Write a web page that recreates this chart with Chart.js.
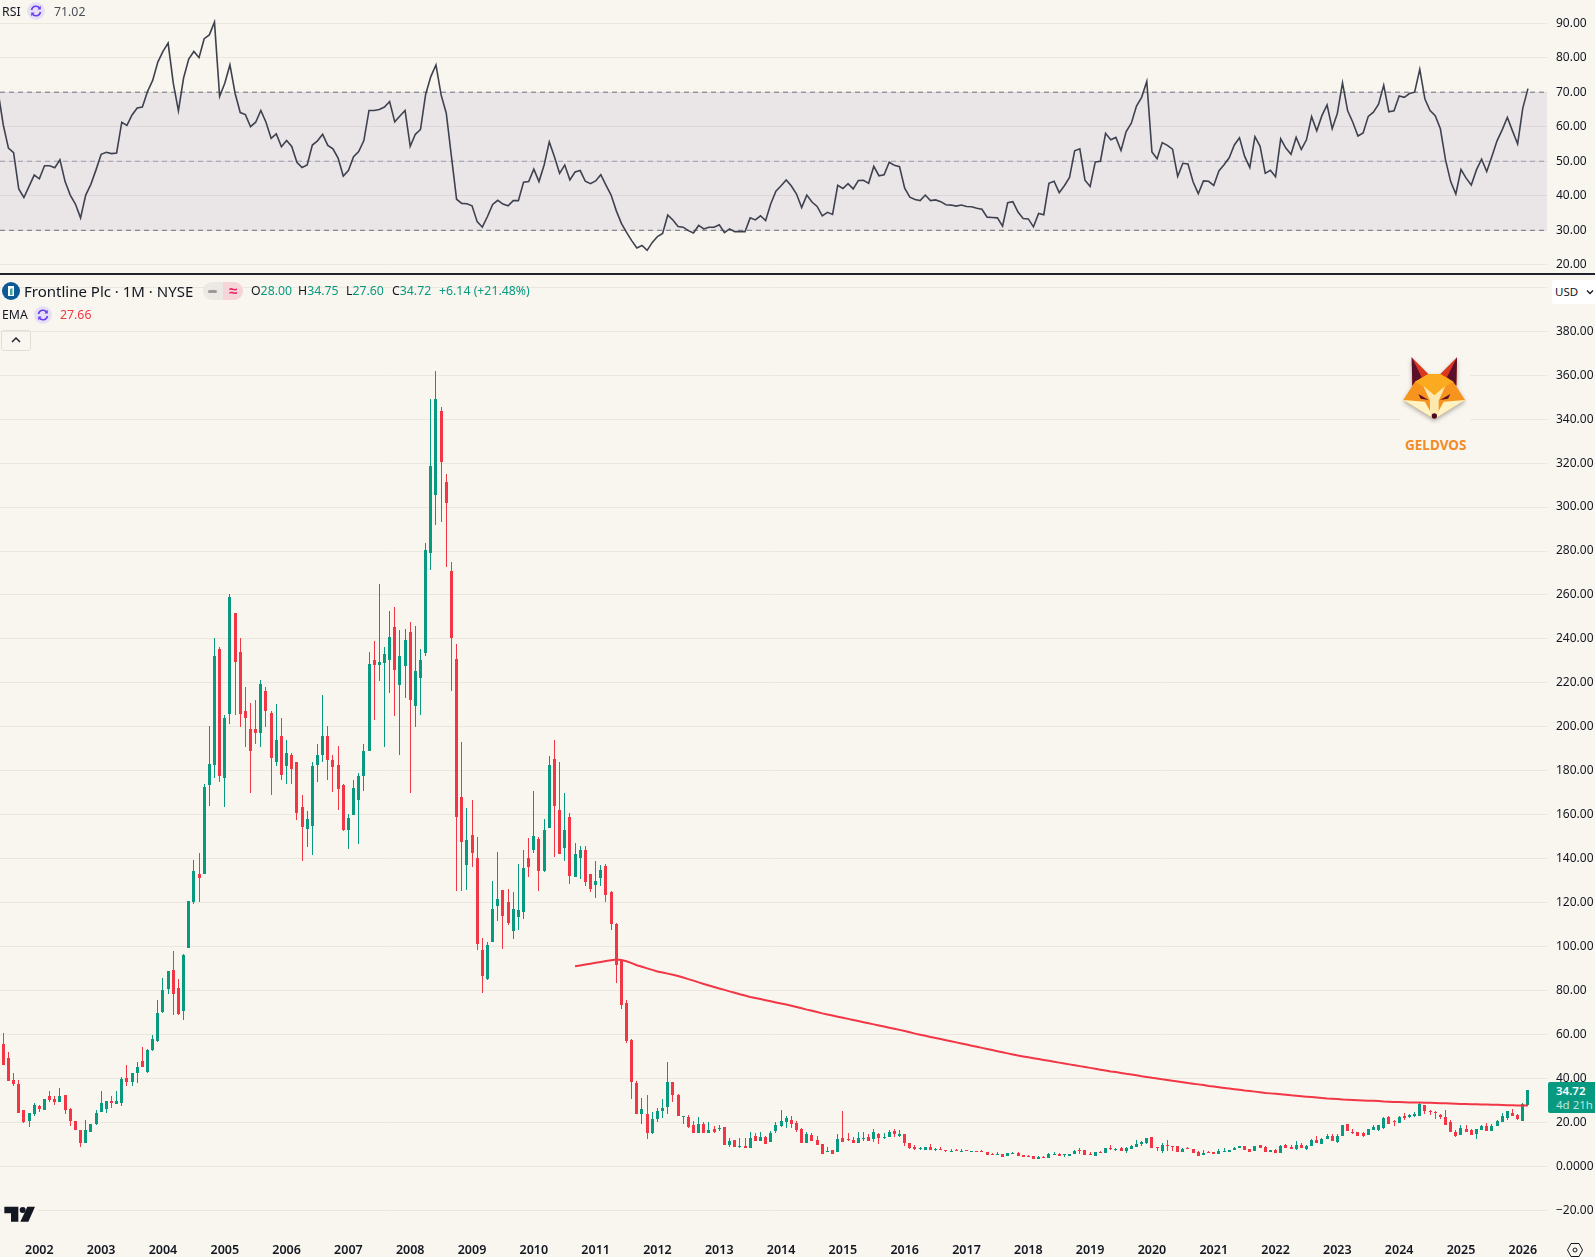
<!DOCTYPE html>
<html>
<head>
<meta charset="utf-8">
<title>Frontline Plc</title>
<script src="https://cdn.jsdelivr.net/npm/chart.js@4"></script>
<style>
    html, body { margin: 0; padding: 0; width: 1595px; height: 1257px; overflow: hidden; background: #f9f6ef; }
    body { position: relative; font-family: "Noto Sans", sans-serif; color: #131722; }
    canvas { position: absolute; left: 0; }
    #rsiChart { top: 0; }
    #priceChart { top: 275px; }
    #separator { position: absolute; left: 0; top: 273px; width: 1595px; height: 2px; background: #20232d; }
    .t { position: absolute; white-space: nowrap; font-size: 12.3px; line-height: 16px; }
    .up { color: #089981; }
    .down { color: #f23645; }
    .icon { position: absolute; }
    #title { left: 24px; top: 281px; font-size: 15px; line-height: 20px; }
    #pill { position: absolute; left: 203px; top: 282px; width: 40px; height: 18px; border-radius: 9px; overflow: hidden; background: #ece9e4; }
    #pill div { position: absolute; left: 20px; top: 0; width: 20px; height: 18px; background: #f5d5d8; color: #e91e63; font-size: 15px; font-weight: 600; line-height: 17px; text-align: center; }
    #pill span { position: absolute; left: 5px; top: 7.5px; width: 9px; height: 3px; border-radius: 2px; background: #9a9a9a; }
    #collapse { position: absolute; left: 1px; top: 330px; width: 28px; height: 19px; border: 1px solid #e2ded6; border-radius: 3px; }
    #usd { position: absolute; left: 1552px; top: 280px; width: 43px; height: 24px; background: #fff; border-radius: 3px 0 0 3px; }
    #usd span { position: absolute; left: 3px; top: 4px; font-size: 11.5px; line-height: 16px; }
    #logoBox { position: absolute; left: 1400px; top: 340px; width: 70px; height: 120px; background: #f9f6ef; }
    #geldvos { left: 1405px; top: 436px; width: 60px; text-align: center; color: #f28c28; font-weight: 700; font-size: 13.5px; line-height: 18px; }
    #priceTag { position: absolute; left: 1548px; top: 1082px; width: 47px; height: 31px; background: #089981; border-radius: 2px 0 0 2px; }
    #priceTag div { position: absolute; left: 8px; font-size: 11.5px; line-height: 14px; white-space: nowrap; }
    #tvBox { position: absolute; left: 2px; top: 1204px; width: 36px; height: 20px; background: #f9f6ef; }
</style>
</head>
<body>
<canvas id="rsiChart" width="1595" height="273"></canvas>
<canvas id="priceChart" width="1595" height="982"></canvas>
<div id="separator"></div>

<svg width="0" height="0" style="position:absolute">
    <symbol id="syncIcon" viewBox="0 0 18 18">
        <circle cx="9" cy="9" r="9" fill="#e6e0f5"/>
        <path d="M4.5 8 A4.6 4.6 0 0 1 12.8 6.2 M13.5 10 A4.6 4.6 0 0 1 5.2 11.8" fill="none" stroke="#6a3df0" stroke-width="1.6"/>
        <path d="M13.8 3.8 V7.4 H10.4 Z M4.2 14.2 V10.6 H7.6 Z" fill="#6a3df0"/>
    </symbol>
</svg>

<!-- RSI legend -->
<div class="t" style="left:2px;top:4px">RSI</div>
<svg class="icon" style="left:27px;top:2px" width="18" height="18"><use href="#syncIcon"/></svg>
<div class="t" style="left:54px;top:4px;color:#4a4d57">71.02</div>

<!-- main legend -->
<svg class="icon" style="left:2px;top:282px" width="18" height="18" viewBox="0 0 18 18">
    <circle cx="9" cy="9" r="9" fill="#0c5a96"/>
    <rect x="6" y="4" width="6" height="10" fill="#fff"/>
    <path d="M8 13 V7 L10.5 6 V13 Z" fill="#3fa796"/>
</svg>
<div class="t" id="title">Frontline Plc · 1M · NYSE</div>
<div id="pill"><span></span><div>≈</div></div>
<div class="t" style="left:251px;top:283px">O<span class="up">28.00</span></div>
<div class="t" style="left:298px;top:283px">H<span class="up">34.75</span></div>
<div class="t" style="left:346px;top:283px">L<span class="up">27.60</span></div>
<div class="t" style="left:392px;top:283px">C<span class="up">34.72</span></div>
<div class="t up" style="left:439px;top:283px">+6.14 (+21.48%)</div>

<div class="t" style="left:2px;top:307px">EMA</div>
<svg class="icon" style="left:34px;top:306px" width="18" height="18"><use href="#syncIcon"/></svg>
<div class="t down" style="left:60px;top:307px">27.66</div>

<div id="collapse">
    <svg width="28" height="19"><path d="M10 11 L14 7 L18 11" fill="none" stroke="#131722" stroke-width="1.4"/></svg>
</div>

<div id="usd">
    <span>USD</span>
    <svg style="position:absolute;left:34px;top:8px" width="8" height="8"><path d="M1 2.5 L4 5.5 L7 2.5" fill="none" stroke="#131722" stroke-width="1.3"/></svg>
</div>

<!-- watermark -->
<div id="logoBox"></div>
<svg class="icon" style="left:1370px;top:270px;filter:drop-shadow(0 2px 2px rgba(0,0,0,.3))" width="225" height="200" viewBox="0 0 675 600">
    <polygon points="125,262 178,315 127,347" fill="#d9381e"/>
    <polygon points="125,262 155,322 127,347" fill="#5a0f2a"/>
    <polygon points="261,262 208,315 259,347" fill="#d9381e"/>
    <polygon points="261,262 231,322 259,347" fill="#5a0f2a"/>
    <polygon points="100,390 135,335 175,312 211,312 250,335 285,390 193,447" fill="#f7941d"/>
    <polygon points="175,312 211,312 250,335 225,350 193,378 160,350 135,335" fill="#fcaa1f"/>
    <polygon points="100,390 165,395 193,447" fill="#fff3c4"/>
    <polygon points="285,390 221,395 193,447" fill="#fff3c4"/>
    <polygon points="160,348 193,376 226,348 206,392 206,425 193,447 180,425 180,392" fill="#fde9b0"/>
    <polygon points="145,372 176,390 152,386" fill="#5a0f2a"/>
    <polygon points="241,372 210,390 234,386" fill="#5a0f2a"/>
    <circle cx="193" cy="438" r="8" fill="#4a0a22"/>
</svg>
<div class="t" id="geldvos">GELDVOS</div>

<div id="priceTag">
    <div style="top:2px;color:#fff;font-weight:600">34.72</div>
    <div style="top:16px;color:#bfe6dd">4d 21h</div>
</div>

<!-- TradingView mark -->
<div id="tvBox"></div>
<svg class="icon" style="left:0;top:1195px" width="70" height="62" viewBox="0 0 210 186">
    <polygon points="13,35 55,35 55,80 33,80 33,55 13,55" fill="#131722"/>
    <circle cx="68" cy="45" r="9" fill="#131722"/>
    <polygon points="82,35 105,35 85,80 61,80" fill="#131722"/>
</svg>

<!-- settings icon -->
<svg class="icon" style="left:1566px;top:1241px" width="18" height="18" viewBox="0 0 18 18">
    <polygon points="5,2.5 13,2.5 16.5,9 13,15.5 5,15.5 1.5,9" fill="none" stroke="#131722" stroke-width="1"/>
    <circle cx="9" cy="9" r="2" fill="none" stroke="#131722" stroke-width="1"/>
</svg>

<script>
// ============== DATA ==============

const firstYear = 2001;
const firstMonth = 6;

const opens = [
    55.6,49.2,39.2,37.4,25.6,20.6,23.8,27.4,25.6,32,
    30.6,29.2,32.4,26.1,20.6,16.5,10.6,15.6,19.2,24.7,
    26.1,29.7,28.3,28.8,40.2,38.3,42.4,47.9,42.9,52.9,
    57,70.2,80.6,89.2,81,70.6,99.2,120.2,132.9,132.9,
    173.3,182.4,235.6,176.5,206,252,234.2,207,198.8,198.8,
    197.4,216.5,206.5,183.8,196,182,187.4,184.2,163.3,153.3,
    154.7,182.4,187.4,196,184.7,182.4,173.3,152.9,159.7,166.5,
    177.4,188.8,230.2,228.3,229.2,230.2,245.2,219.2,227.9,243.3,
    209.7,222.4,233.8,279.2,305.6,343.8,311.5,271,231,167.9,
    137,150.6,140.2,98.3,85.2,102,118.3,125.6,120.2,107,
    113.3,115.6,140.2,143.8,148.8,134.2,153.8,185.2,162,144.7,
    158.8,131.5,140.2,143.8,132.9,127.9,131,136.5,124.7,110.2,
    93.8,74.2,57.4,37.9,23.8,23.8,15.2,21.5,25.2,27,
    38.3,32.4,22.4,22.4,18.8,15.2,19.2,15.2,17,16.9,
    17.7,9.7,12,8.8,9.2,8.3,13.8,11.5,13.3,11.1,
    16.1,18.3,20.2,21.1,19.7,17,10.6,14.2,12,10.2,
    6.5,7.4,6.5,12.9,12.4,12,10.6,12.4,13.3,12.4,
    14.7,12.9,13.3,16.1,13.8,14.7,10.6,8.8,7.9,7.4,
    8.8,7.4,7.9,7.4,6.5,7.4,6.5,7.4,6.7,7,
    6.8,6.5,5.6,5.2,5.6,4.7,5.6,6.1,5.2,4.7,
    4.7,3.3,4.2,3.8,5.2,5.6,5.2,4.7,5.6,7.4,
    7.4,5.6,4.7,6.5,6.1,8.3,7.4,8.3,7,7.9,
    8.8,10.2,10.6,13.2,8.6,7.1,9.8,9.1,9.2,6.7,
    8.2,7.9,6.5,5.3,6.7,6.4,5.8,6.8,6.5,7.6,
    8.5,9.1,8,7.1,9.7,8.9,6.7,7.6,6.2,9.8,
    8.9,7.9,9.7,7.7,9.2,11.8,10.2,12.6,13.8,11.2,
    13.8,19.2,15.6,15.6,15.3,14.2,16.5,16.5,17.4,22.4,
    20.6,19.7,22.9,22.4,22.9,22.9,27.9,25.2,24.7,23.3,
    22.4,20.2,15.6,14.2,17,16.5,14.7,16.5,18.3,16.1,
    18.3,20.2,22,24.2,23.3,20.6,28
];

const highs = [
    60.6,52,42.4,39.2,25.6,24.2,28.8,27.9,30.6,34.2,
    32,35.6,32.4,26.5,20.6,16.5,21,19.2,25.6,34.2,
    29.7,32,34.2,40.6,46,42.4,47.4,54.2,53.3,59.7,
    75.6,85.6,88.8,97.9,85.2,96.5,120.6,139.2,142.4,173.8,
    200.6,240.6,236.5,205.6,260.6,252,240.6,218.3,211,212.4,
    221.5,218.3,207.4,210.2,203.8,194.2,188.3,184.2,168.8,161.5,
    184.2,192,214.7,200.6,187,191.5,173.8,160.2,176,178.8,
    192.4,234.2,239.2,265.2,236.5,252.9,254.7,244.2,244.7,247.9,
    246,235.6,283.8,349.2,362,345.6,315.2,275.2,237.9,192.9,
    162.9,166.5,149.7,103.8,102,129.7,142.9,125.6,126,124.7,
    137.4,143.8,149.2,170.6,149.7,157.9,186.5,194.2,184.2,169.7,
    160.6,147,145.6,145.6,132.9,138.8,137,137.4,125.2,110.6,
    94.2,75.6,57.9,38.8,31,32.4,24.7,26.5,30.6,47.4,
    38.3,32.9,22.9,23.3,20.6,22.4,20,20,18.2,18.8,
    18,12.9,12,12.9,12.9,15.6,15.2,15.6,13.8,16.1,
    20.2,25.6,22.9,22.9,20.6,17.4,15.6,15.2,13.8,10.2,
    8.8,7.4,14.7,25.2,15.2,13.3,15.6,15.6,14.7,17,
    15.2,15.2,16.5,17,16.5,14.7,10.6,9.7,8.8,8.8,
    10.2,8.3,8.8,7.4,7.9,7.9,7.9,7.5,7.1,7,
    7.4,6.5,6.1,6.5,5.6,6.1,6.5,6.5,5.2,5.2,
    4.7,4.7,4.7,6.1,6.5,6.1,5.6,5.6,7.4,8.3,
    7.4,6.5,6.5,7,8.3,9.7,8.3,8.8,8.8,9.7,
    12,11.5,12.9,13.2,8.6,10.8,12,9.4,9.2,8.3,
    8.6,7.9,7.1,7.4,7.1,6.4,7.9,8.3,7.6,8.9,
    9.4,9.1,8,9.2,9.7,9.4,7.3,8,9.8,10.2,
    9.7,11.5,10.6,9.8,12.3,13.8,12.9,14.7,14.7,14.7,
    18.8,19.2,17,15.6,15.6,17,18.8,18.8,22.4,22.9,
    20.9,22.9,24.2,23.8,24.7,29.2,28,25.6,25.2,23.8,
    25.6,20.9,16.5,18.8,18.8,17,17,18.8,19.7,19.2,
    21,24.2,25.2,26,23.8,28.8,34.75
];

const lows = [
    46,38.8,36.5,24.2,19.7,17.9,22.9,24.7,25.6,29.2,
    27.9,29.2,23.8,18.3,16.5,8.8,10.6,15.6,18.8,24.7,
    24.2,26.5,28.3,27.4,36.5,36.5,37.9,45.2,42.4,52.4,
    56.5,69.7,78.3,68.8,68.8,66.5,99.2,119.2,120.2,132.9,
    163.8,176.5,174.7,163.3,201.5,205.6,199.7,190.6,169.7,192,
    191,199.7,168.8,182,176,173.8,174.2,157.4,138.8,145.2,
    141.5,174.7,183.8,175.6,170.2,162,152.4,144.2,159.7,146.5,
    171,188.8,202.9,221,191,215.6,204.7,187.4,212.9,169.7,
    199.7,205.6,232,271.5,292,293,272.9,216.5,125.2,125.2,
    125.6,136,98.3,78.8,84.7,102,111.5,98.8,109.7,103.3,
    107.4,112.4,131.5,142.4,125.2,133.8,153.8,140.6,142,138.8,
    128.3,131.5,130.6,127.4,124.7,122,127.4,120.2,107.4,83.3,
    71.5,56,30.6,23.8,19.2,12.4,14.7,20.2,22,23.8,
    29.2,22.9,19.2,17.4,15.2,15.2,15.2,15.2,15.2,16.3,
    9.7,8.8,8.8,8.3,8.3,8.3,11.5,11.5,10.2,11.1,
    15.2,17.9,17.4,17.4,15.6,10.6,10.6,11.5,9.7,5.6,
    6.5,5.6,6.5,11.1,11.5,10.6,10.6,11.5,11.5,11.1,
    10.2,12.4,13.3,13.3,13.3,9.2,7.9,7.4,7.4,7.4,
    7.4,7,7.4,6.5,6.5,7,6.5,7,6.6,6.6,
    6.4,5.2,5.2,5.2,4.2,4.7,5.6,4.7,4.2,4.2,
    3.3,3.3,3.8,3.8,5.2,4.7,4.2,4.7,5.6,5.6,
    5.2,5.2,4.7,6.1,6.1,7.4,7,7,6.1,7.9,
    8.8,9.2,10.2,8.5,7.1,6.2,7.1,7.1,6.5,6.7,
    7.7,6.2,4.8,5.3,6,5.8,5.8,6.8,6.5,7.6,
    8.5,7.6,6.5,7.1,8.5,6.7,6.7,6.1,6.2,8.2,
    8,7.4,8.3,7.4,9.2,10.5,10.2,12.6,11.7,10.6,
    13.8,16.1,14.7,13.8,13.3,14.2,16.5,16,17,19.2,
    18.3,19.7,21,21.8,22.4,22.9,23.8,23.3,21.5,21.5,
    18.8,15.6,13.3,14.2,15.6,14.2,12.4,16.5,16.1,16.1,
    18.3,20.2,21,22.9,21,20.6,27.6
];

const closes = [
    46,38.8,37.4,24.2,20.2,24.2,27.9,26.1,30.6,30.2,
    29.2,32,25.6,20.6,16.5,10.6,16.5,19.2,24.2,28.8,
    29.7,28.8,29.7,39.7,38.3,42.4,45.2,45.2,52.9,57.9,
    69.7,80.2,88.8,78.3,69.2,96,120.6,134.2,131,172.4,
    182.9,232,177.4,203.8,259.2,229.7,206,203.8,188.8,197,
    219.7,207,186,194.2,177.9,187.9,180.6,160.6,154.2,157.9,
    182,187.4,196,184.7,181.5,171.5,152.9,158.3,172,177.4,
    188.8,228.8,228.3,229.7,233.3,241,226,232.4,239.7,212.4,
    225.2,230.2,280.6,318.8,349.2,320.6,302,240.2,158.8,147.4,
    148.3,142.4,101,86.5,100.6,117,121.5,113.8,110.6,117,
    116.5,135.6,136,150.2,134.2,152.9,182.4,163.8,142,152.9,
    132,142,143.8,129.2,126,129.7,134.7,123.3,110.2,91.5,
    73.3,57,38.3,23.8,26,15.2,21.5,25.2,26.5,38.3,
    32.4,22.9,22.9,17.9,15.2,19.2,15.2,16.5,15.6,17.3,
    9.7,11.5,8.8,9.2,8.3,12.9,11.5,13.3,10.2,15.2,
    18.8,20.6,22,19.2,16.5,10.6,14.7,11.5,9.7,5.6,
    7,5.6,12.4,11.1,12,10.6,12.9,12.9,11.5,15.6,
    12.9,13.3,15.6,14.7,14.7,10.6,8.3,7.9,8.3,8.8,
    7.4,7.9,7.4,7,7,7,7,7.1,7,6.7,
    6.4,5.2,5.2,5.6,4.2,6.1,6.1,4.7,4.2,4.2,
    3.3,4.2,3.8,5.6,5.6,4.7,5.6,5.6,7,7,
    5.2,5.2,6.5,6.1,8.3,7.9,7.9,7,8.3,9.2,
    10.2,11.1,12.9,8.5,8.3,9.8,9.4,8.9,6.5,8,
    7.7,6.2,4.8,6.2,6.4,5.8,7.1,7.1,7.6,8.5,
    9.1,7.6,6.5,9.2,8.5,6.7,7.3,6.1,9.4,8.2,
    8,9.7,8.3,9.4,12,10.8,12.6,13.9,11.7,13.8,
    18.8,16.1,15.2,13.8,13.8,17,17.9,18.8,22,19.2,
    20.2,22.4,22,23.3,23.8,28.3,25.2,24.7,24.2,22.4,
    18.8,15.6,13.8,17.4,15.6,14.2,17,18.3,16.1,18.3,
    20.6,22.9,25.2,22.9,21.5,28.3,34.72
];

// EMA has no value before this candle
const emaFirstCandle = 111;
const emaValues = [
    91,91.4,91.8,92.2,92.6,93,93.4,93.8,94.1,93.9,
    93.3,92.5,91.5,90.8,90.1,89.4,88.7,88.2,87.7,87.2,
    86.6,85.9,85.2,84.5,83.7,83,82.3,81.6,80.9,80.3,
    79.6,79,78.3,77.7,77.1,76.6,76.1,75.6,75.1,74.6,
    74.1,73.6,73.1,72.5,71.9,71.3,70.8,70.2,69.6,69.1,
    68.6,68.1,67.6,67.1,66.6,66.1,65.6,65.1,64.6,64.1,
    63.6,63.1,62.6,62.1,61.6,61,60.4,59.9,59.4,58.9,
    58.4,57.9,57.4,56.9,56.4,55.9,55.4,54.9,54.4,53.9,
    53.4,52.9,52.4,51.9,51.4,50.9,50.4,50,49.6,49.2,
    48.8,48.4,48,47.6,47.2,46.8,46.4,46,45.6,45.2,
    44.8,44.4,44,43.6,43.2,42.9,42.5,42.1,41.8,41.4,
    41,40.7,40.3,40,39.6,39.3,38.9,38.6,38.3,37.9,
    37.6,37.3,37,36.6,36.3,36,35.7,35.4,35.1,34.8,
    34.5,34.3,34,33.7,33.4,33.2,33,32.8,32.6,32.3,
    32.1,31.9,31.7,31.5,31.3,31.1,30.9,30.8,30.6,30.4,
    30.3,30.2,30.1,30,29.9,29.8,29.7,29.5,29.4,29.3,
    29.3,29.2,29.1,29,29,28.9,28.9,28.8,28.7,28.7,
    28.6,28.5,28.4,28.4,28.3,28.2,28.1,28.1,28,28,
    27.9,27.8,27.8,27.7,27.7,27.66
];

// RSI starts one month left of the first candle, just outside the view
const rsiFirstCandle = -1;
const rsiValues = [
    70,60.5,53.8,52.5,42,39.5,42.7,46,44.9,48.7,48.7,
    48.1,50.4,44.1,40.2,37.6,33.6,40.2,43.3,47.5,52,
    52.6,52.2,52.4,61.3,60.4,63.4,65.4,65.7,70.2,73.4,
    78.7,81.8,84.2,72.6,64.6,74.1,79.6,81.8,80,85.5,
    86.6,90.3,68.8,72.6,77.9,69.7,64.1,63.5,60,61.3,
    64.7,61.3,56.6,57.9,54.2,56,54.3,49.7,48.2,48.9,
    54.7,55.9,57.8,54.6,53.6,50.9,45.7,47.3,51.3,52.8,
    56,64.7,64.7,65,65.7,67.3,61.4,63.1,64.7,54.3,
    57.8,59.2,69.4,74.5,77.9,69.2,63.9,51.4,39,37.8,
    37.7,37.1,32.5,30.9,34,37.5,38.7,37.6,37.1,38.6,
    38.6,43.9,44.1,47.7,44.1,48.9,55.6,51.3,46.5,48.9,
    44.6,46.9,47.3,44.2,43.5,44.3,46.1,43.1,40.2,35.7,
    32,29.4,27,24.9,25.6,24.2,26.5,28.2,29.1,34.4,
    33,31.1,30.9,29.9,29.2,31.4,30.4,30.9,30.9,31.6,
    29.3,30.4,29.6,29.6,29.6,33.6,33,34.2,32.8,37.7,
    41.3,42.9,44.6,42.8,40.5,36.6,40.2,38.2,36.9,34.2,
    35.2,34.6,43,42.1,43.5,42,44.4,44.5,43.6,48.5,
    45.8,46.1,49.7,48.8,48.4,42.2,39.6,38.9,38.6,40.2,
    38.6,38.8,38.3,37.4,37.3,37,37.3,36.9,36.8,36.4,
    36.1,33.8,33.7,33.6,31.2,38,38.3,35.3,33.4,33.3,
    31,34.9,34.5,43.6,44.2,40.9,42.9,45.3,53,53.6,
    44.5,42.7,49.8,50,58.1,56.2,56.9,53.1,58.6,61,
    66,68.5,73.1,52.7,50.7,55.4,54.6,53.5,45.6,49.4,
    49.2,44,40.6,44.3,44.2,43,47.2,49,51,54.7,
    56.8,51.4,48.2,57.1,54.3,46.5,47.4,45.5,56.5,53.8,
    52,56.9,53.4,56.2,62.9,58.8,63.2,66.3,59.4,63.9,
    72.7,64.6,61.3,57.3,58.2,63,64.2,66.5,72,64.3,
    64.6,68.9,68.5,69.6,70,76.6,68,64.7,63.2,59.4,
    50.4,44.1,40.5,47.6,45.1,43.1,47.5,50.6,47,51.4,
    55.9,59.1,62.7,58.8,55,65.4,71.02
];

const priceTicks = [-20,0,20,40,60,80,100,120,140,160,180,200,220,240,260,280,300,320,340,360,380,400];
const rsiTicks = [20,30,40,50,60,70,80,90];
const rsiUpper = 70;
const rsiMiddle = 50;
const rsiLower = 30;

// ============== STYLE ==============

const GREEN = '#089981';
const RED = '#f23645';
const TEXT = '#131722';
const GRID = '#ebe7df';
const AXIS_FONT = { family: '"Noto Sans", sans-serif', size: 12 };
const AXIS_WIDTH = 48;

// month index limits of the visible window, same for both panes
const X_MIN = -0.64;
const X_MAX = 299.7;

// y limits that put the gridlines where the reference has them
const PRICE_MIN = -31.7;
const PRICE_MAX = 405.6;
const RSI_MIN = 17.63;
const RSI_MAX = 96.7;

// ============== HELPERS ==============

function monthLabel(index) {
    const total = firstYear * 12 + (firstMonth - 1) + index;
    return Math.floor(total / 12) + '-' + String(total % 12 + 1).padStart(2, '0');
}

const months = opens.map((_, i) => monthLabel(i));
const januaries = months.map((m, i) => (m.endsWith('-01') ? i : -1)).filter(i => i >= 0);

function flatLine(value) {
    return [{ x: X_MIN, y: value }, { x: X_MAX, y: value }];
}

function setTicks(values) {
    return scale => { scale.ticks = values.map(value => ({ value })); };
}

// Chart.js insets the plot for half a label at each end, the panes need to run edge to edge
function noInset(scale) {
    scale.paddingTop = 0;
    scale.paddingBottom = 0;
    scale.paddingLeft = 0;
    scale.paddingRight = 0;
}

function priceLabel(value) {
    if (value === 400) return '';
    if (value === 0) return '0.0000';
    return (value < 0 ? '−' : '') + Math.abs(value).toFixed(2);
}

function candleColor(ctx) {
    return closes[ctx.dataIndex] >= opens[ctx.dataIndex] ? GREEN : RED;
}

// Keep candles on whole pixels so 1px wicks stay sharp
const snapCandles = {
    id: 'snapCandles',
    afterDatasetsUpdate(chart) {
        chart.getSortedVisibleDatasetMetas().forEach(meta => {
            if (meta.type !== 'bar') return;
            meta.data.forEach(bar => {
                bar.x = Math.round(bar.x - 0.5) + 0.5;
                const top = Math.round(Math.min(bar.y, bar.base));
                let bottom = Math.round(Math.max(bar.y, bar.base));
                if (bottom - top < 1) bottom = top + 1;
                bar.y = top;
                bar.base = bottom;
            });
        });
    }
};

function yAxisOptions(min, max, ticks, callback) {
    return {
        position: 'right',
        min: min,
        max: max,
        afterBuildTicks: setTicks(ticks),
        afterFit: scale => {
            scale.width = AXIS_WIDTH;
            noInset(scale);
        },
        grid: { color: GRID, lineWidth: 1, drawTicks: false },
        border: { display: false },
        ticks: { color: TEXT, font: AXIS_FONT, padding: 9, callback: callback }
    };
}

// ============== RSI PANE ==============

new Chart(document.getElementById('rsiChart').getContext('2d'), {
    type: 'line',
    data: {
        datasets: [
            {
                label: 'RSI',
                data: rsiValues.map((y, k) => ({ x: k + rsiFirstCandle, y })),
                borderColor: '#3e424f',
                borderWidth: 1.6,
                pointRadius: 0,
                tension: 0,
                order: 0
            },
            {
                label: 'Upper band',
                data: flatLine(rsiUpper),
                borderColor: '#6f7080',
                borderWidth: 1,
                borderDash: [5, 4],
                pointRadius: 0,
                fill: '+2',
                backgroundColor: 'rgba(109, 77, 170, 0.1)',
                order: 1
            },
            {
                label: 'Middle band',
                data: flatLine(rsiMiddle),
                borderColor: '#a5a3ab',
                borderWidth: 1,
                borderDash: [5, 4],
                pointRadius: 0,
                order: 1
            },
            {
                label: 'Lower band',
                data: flatLine(rsiLower),
                borderColor: '#6f7080',
                borderWidth: 1,
                borderDash: [5, 4],
                pointRadius: 0,
                order: 1
            }
        ]
    },
    options: {
        responsive: false,
        animation: false,
        devicePixelRatio: 1,
        layout: { padding: 0 },
        plugins: { legend: { display: false }, tooltip: { enabled: false } },
        scales: {
            x: { type: 'linear', min: X_MIN, max: X_MAX, display: false },
            y: yAxisOptions(RSI_MIN, RSI_MAX, rsiTicks, value => value.toFixed(2))
        }
    }
});

// ============== PRICE PANE ==============

new Chart(document.getElementById('priceChart').getContext('2d'), {
    type: 'bar',
    data: {
        datasets: [
            {
                type: 'line',
                label: 'EMA',
                data: emaValues.map((y, k) => ({ x: k + emaFirstCandle, y })),
                borderColor: RED,
                borderWidth: 2,
                pointRadius: 0,
                tension: 0,
                order: 0
            },
            {
                label: 'Body',
                data: opens.map((open, i) => ({ x: i, y: [open, closes[i]] })),
                backgroundColor: candleColor,
                barThickness: 3,
                inflateAmount: 0,
                grouped: false,
                order: 1
            },
            {
                label: 'Wick',
                data: lows.map((low, i) => ({ x: i, y: [low, highs[i]] })),
                backgroundColor: candleColor,
                barThickness: 1,
                inflateAmount: 0,
                grouped: false,
                order: 2
            }
        ]
    },
    options: {
        responsive: false,
        animation: false,
        devicePixelRatio: 1,
        layout: { padding: 0 },
        plugins: { legend: { display: false }, tooltip: { enabled: false } },
        scales: {
            x: {
                type: 'linear',
                min: X_MIN,
                max: X_MAX,
                offset: false,
                afterBuildTicks: setTicks(januaries),
                afterFit: scale => {
                    scale.height = 21;
                    noInset(scale);
                },
                grid: { display: false },
                border: { display: false },
                ticks: {
                    color: TEXT,
                    font: { family: AXIS_FONT.family, size: 12.5, weight: '600' },
                    autoSkip: false,
                    maxRotation: 0,
                    padding: -1,
                    callback: value => months[value].slice(0, 4)
                }
            },
            y: yAxisOptions(PRICE_MIN, PRICE_MAX, priceTicks, priceLabel)
        }
    },
    plugins: [snapCandles]
});
</script>
</body>
</html>
